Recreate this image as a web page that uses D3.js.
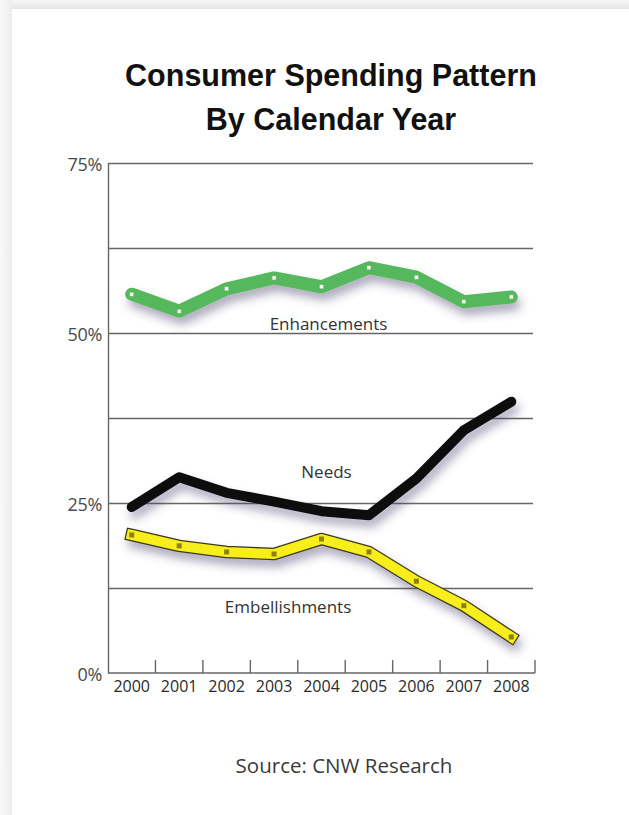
<!DOCTYPE html>
<html>
<head>
<meta charset="utf-8">
<script src="https://cdn.jsdelivr.net/npm/d3@7"></script>
<style>
  body { margin: 0; background: #fff; }
  svg { display: block; }
  text { font-family: "Open Sans", "Noto Sans", sans-serif; }
</style>
</head>
<body>
<svg id="chart" width="629" height="815"></svg>
<script>
// data (percent of spending)
const years = ["2000", "2001", "2002", "2003", "2004", "2005", "2006", "2007", "2008"];
const enhancements = [55.7, 53.2, 56.5, 58.1, 56.8, 59.6, 58.2, 54.6, 55.3];
const needs = [24.4, 28.8, 26.5, 25.2, 23.8, 23.2, 28.6, 35.7, 39.9];
const embellishments = [20.3, 18.7, 17.8, 17.5, 19.7, 17.8, 13.5, 9.9, 5.3];
const yTicks = [0, 25, 50, 75];
const gridTicks = [12.5, 25, 37.5, 50, 62.5, 75];

const svg = d3.select("#chart");
const defs = svg.append("defs");

// page frame (grey edge at top and left)
let gTop = defs.append("linearGradient").attr("id", "gTop").attr("x1", 0).attr("y1", 0).attr("x2", 0).attr("y2", 1);
gTop.append("stop").attr("offset", "0%").attr("stop-color", "#f7f7f7");
gTop.append("stop").attr("offset", "100%").attr("stop-color", "#e4e4e4");
let gLeft = defs.append("linearGradient").attr("id", "gLeft").attr("x1", 0).attr("y1", 0).attr("x2", 1).attr("y2", 0);
gLeft.append("stop").attr("offset", "0%").attr("stop-color", "#fafafa");
gLeft.append("stop").attr("offset", "100%").attr("stop-color", "#ececec");

svg.append("rect").attr("x", 0).attr("y", 0).attr("width", 629).attr("height", 9).attr("fill", "url(#gTop)");
svg.append("rect").attr("x", 0).attr("y", 0).attr("width", 12).attr("height", 815).attr("fill", "url(#gLeft)");

// soft drop shadow under the lines
let shadow = defs.append("filter").attr("id", "shadow")
  .attr("x", "-20%").attr("y", "-50%").attr("width", "140%").attr("height", "200%");
shadow.append("feDropShadow")
  .attr("dx", 3).attr("dy", 7).attr("stdDeviation", 5)
  .attr("flood-color", "#4a3f6b").attr("flood-opacity", 0.45);

// title
const titleFont = "'Liberation Sans', Arial, sans-serif";
svg.append("text").attr("x", 331).attr("y", 86).attr("text-anchor", "middle")
  .style("font-family", titleFont)
  .attr("font-weight", "bold").attr("font-size", 30.5).attr("fill", "#111")
  .text("Consumer Spending Pattern");
svg.append("text").attr("x", 331).attr("y", 130).attr("text-anchor", "middle")
  .style("font-family", titleFont)
  .attr("font-weight", "bold").attr("font-size", 30.5).attr("fill", "#111")
  .text("By Calendar Year");

// scales
const x = d3.scaleBand().domain(years).range([108, 535]);
const y = d3.scaleLinear().domain([0, 75]).range([673, 163]);
const cx = d => x(d) + x.bandwidth() / 2;

// gridlines
svg.append("g")
  .attr("transform", "translate(108,0)")
  .call(d3.axisRight(y).tickValues(gridTicks).tickSize(425).tickFormat(""))
  .call(g => g.select(".domain").remove())
  .call(g => g.selectAll("line").attr("stroke", "#666").attr("stroke-width", 1.4));

// y axis
svg.append("g")
  .attr("transform", "translate(108,0)")
  .call(d3.axisLeft(y).tickValues(yTicks).tickSize(0).tickPadding(6).tickFormat(d => d + "%"))
  .call(g => g.select(".domain").attr("stroke", "#666").attr("stroke-width", 1.4))
  .call(g => g.selectAll("text")
    .attr("font-size", 18).attr("fill", "#4a4a4a").attr("letter-spacing", -0.3)
    .style("font-family", "'Open Sans', sans-serif")
    .attr("dy", "0.4em"));

// x axis: labels in band centres, ticks on band edges
svg.append("g")
  .attr("transform", "translate(0,673)")
  .call(d3.axisBottom(x).tickSize(0).tickPadding(8))
  .call(g => g.select(".domain").attr("stroke", "#666").attr("stroke-width", 1.4).attr("d", "M108,0H535"))
  .call(g => g.selectAll("text")
    .attr("font-size", 16).attr("fill", "#2a2a2a")
    .style("font-family", "'Open Sans', sans-serif"));

svg.append("g").selectAll("line")
  .data(years)
  .join("line")
  .attr("x1", d => x(d) + x.bandwidth()).attr("x2", d => x(d) + x.bandwidth())
  .attr("y1", 660).attr("y2", 673)
  .attr("stroke", "#666").attr("stroke-width", 1.4);

// lines
const line = d3.line().x((d, i) => cx(years[i])).y(d => y(d));

svg.append("path")
  .attr("d", line(enhancements))
  .attr("fill", "none").attr("stroke", "#55b85c").attr("stroke-width", 13)
  .attr("stroke-linejoin", "round").attr("stroke-linecap", "round")
  .attr("filter", "url(#shadow)");
svg.append("g").selectAll("rect")
  .data(enhancements)
  .join("rect")
  .attr("x", (d, i) => cx(years[i]) - 2).attr("y", d => y(d) - 2)
  .attr("width", 4).attr("height", 4)
  .attr("fill", "#f2fff0").attr("stroke", "#7fa97f").attr("stroke-width", 0.5);

svg.append("path")
  .attr("d", line(needs))
  .attr("fill", "none").attr("stroke", "#0a0a0a").attr("stroke-width", 10)
  .attr("stroke-linejoin", "round").attr("stroke-linecap", "round")
  .attr("filter", "url(#shadow)");

svg.append("path")
  .attr("d", line(embellishments))
  .attr("fill", "none").attr("stroke", "#3a3a1a").attr("stroke-width", 12.5)
  .attr("stroke-linejoin", "round").attr("stroke-linecap", "square")
  .attr("filter", "url(#shadow)");
svg.append("path")
  .attr("d", line(embellishments))
  .attr("fill", "none").attr("stroke", "#f7ee1b").attr("stroke-width", 10)
  .attr("stroke-linejoin", "round").attr("stroke-linecap", "square");
svg.append("g").selectAll("rect")
  .data(embellishments)
  .join("rect")
  .attr("x", (d, i) => cx(years[i]) - 2.5).attr("y", d => y(d) - 2.5)
  .attr("width", 5).attr("height", 5)
  .attr("fill", "#8c7f10");

// series names
svg.append("text").attr("x", cx("2004") + 7).attr("y", y(50.5)).attr("text-anchor", "middle")
  .attr("font-size", 17).attr("fill", "#333").text("Enhancements");
svg.append("text").attr("x", cx("2004") + 5).attr("y", y(28.7)).attr("text-anchor", "middle")
  .attr("font-size", 17).attr("fill", "#333").text("Needs");
svg.append("text").attr("x", cx("2003") + 14).attr("y", y(8.8)).attr("text-anchor", "middle")
  .attr("font-size", 17).attr("fill", "#333").text("Embellishments");

// source note
svg.append("text").attr("x", 344).attr("y", 773).attr("text-anchor", "middle")
  .attr("font-size", 20.5).attr("fill", "#3a3a3a").text("Source: CNW Research");
</script>
</body>
</html>
